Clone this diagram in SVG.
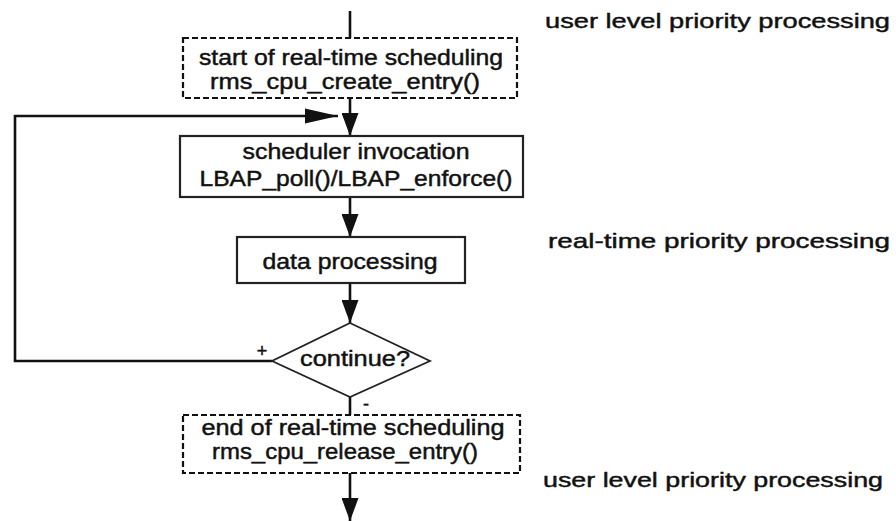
<svg xmlns="http://www.w3.org/2000/svg" width="896" height="521" viewBox="0 0 896 521">
<style>
.t{font-family:"Liberation Sans",Arial,sans-serif;fill:#111;stroke:#111;stroke-width:0.45;}
.bt{font-size:21.5px;}
.lt{font-size:21px;}
.box{fill:none;stroke:#222;stroke-width:2.2;}
.dash{fill:none;stroke:#111;stroke-width:2.2;stroke-dasharray:6 3;}
.con{fill:none;stroke:#111;stroke-width:2.6;}
</style>
<defs>
<marker id="ah" markerUnits="userSpaceOnUse" markerWidth="24" markerHeight="17" refX="23" refY="8.5" orient="auto">
<path d="M0,0 L23,8.5 L0,17 z" fill="#111"/>
</marker>
<marker id="ahl" markerUnits="userSpaceOnUse" markerWidth="34" markerHeight="16" refX="33" refY="8" orient="auto">
<path d="M0,0.5 L33,8 L0,15.5 z" fill="#111"/>
</marker>
</defs>
<rect width="896" height="521" fill="#fff"/>
<g id="connectors">
<line class="con" x1="350" y1="11" x2="350" y2="38"/>
<line class="con" x1="350" y1="98" x2="350" y2="136" marker-end="url(#ah)"/>
<line class="con" x1="350" y1="197" x2="350" y2="237" marker-end="url(#ah)"/>
<line class="con" x1="350" y1="283" x2="350" y2="323" marker-end="url(#ah)"/>
<polyline class="con" points="272,361 15,361 15,116 338,116" marker-end="url(#ahl)"/>
<line class="con" x1="350" y1="397" x2="350" y2="415"/>
<line class="con" x1="350" y1="473" x2="350" y2="521" marker-end="url(#ah)"/>
<text class="t" x="262" y="357" font-size="18" text-anchor="middle">+</text>
<text class="t" x="366" y="410" font-size="18" text-anchor="middle">-</text>
</g>
<g id="start">
<rect class="dash" x="183" y="38" width="334" height="60"/>
<text class="t bt" x="351" y="65" text-anchor="middle" textLength="304" lengthAdjust="spacingAndGlyphs">start of real-time scheduling</text>
<text class="t bt" x="345" y="89" text-anchor="middle" textLength="270" lengthAdjust="spacingAndGlyphs">rms_cpu_create_entry()</text>
</g>
<g id="scheduler">
<rect class="box" x="180" y="136" width="343" height="61"/>
<text class="t bt" x="356" y="159" text-anchor="middle" textLength="227" lengthAdjust="spacingAndGlyphs">scheduler invocation</text>
<text class="t bt" x="356" y="186" text-anchor="middle" textLength="313" lengthAdjust="spacingAndGlyphs">LBAP_poll()/LBAP_enforce()</text>
</g>
<g id="data">
<rect class="box" x="237" y="237" width="228" height="46"/>
<text class="t bt" x="350" y="269" text-anchor="middle" textLength="175" lengthAdjust="spacingAndGlyphs">data processing</text>
</g>
<g id="decision">
<polygon points="350,323 430,361 350,397 272,361" fill="#fff" stroke="#222" stroke-width="1.8"/>
<text class="t bt" x="355" y="366" text-anchor="middle" textLength="110" lengthAdjust="spacingAndGlyphs">continue?</text>
</g>
<g id="end">
<rect class="dash" x="183" y="415" width="337" height="58"/>
<text class="t bt" x="353" y="435" text-anchor="middle" textLength="303" lengthAdjust="spacingAndGlyphs">end of real-time scheduling</text>
<text class="t bt" x="345" y="459" text-anchor="middle" textLength="266" lengthAdjust="spacingAndGlyphs">rms_cpu_release_entry()</text>
</g>
<g id="labels">
<text class="t lt" x="545" y="28" textLength="345" lengthAdjust="spacingAndGlyphs">user level priority processing</text>
<text class="t lt" x="548" y="248" textLength="342" lengthAdjust="spacingAndGlyphs">real-time priority processing</text>
<text class="t lt" x="543" y="487" textLength="340" lengthAdjust="spacingAndGlyphs">user level priority processing</text>
</g>
</svg>
